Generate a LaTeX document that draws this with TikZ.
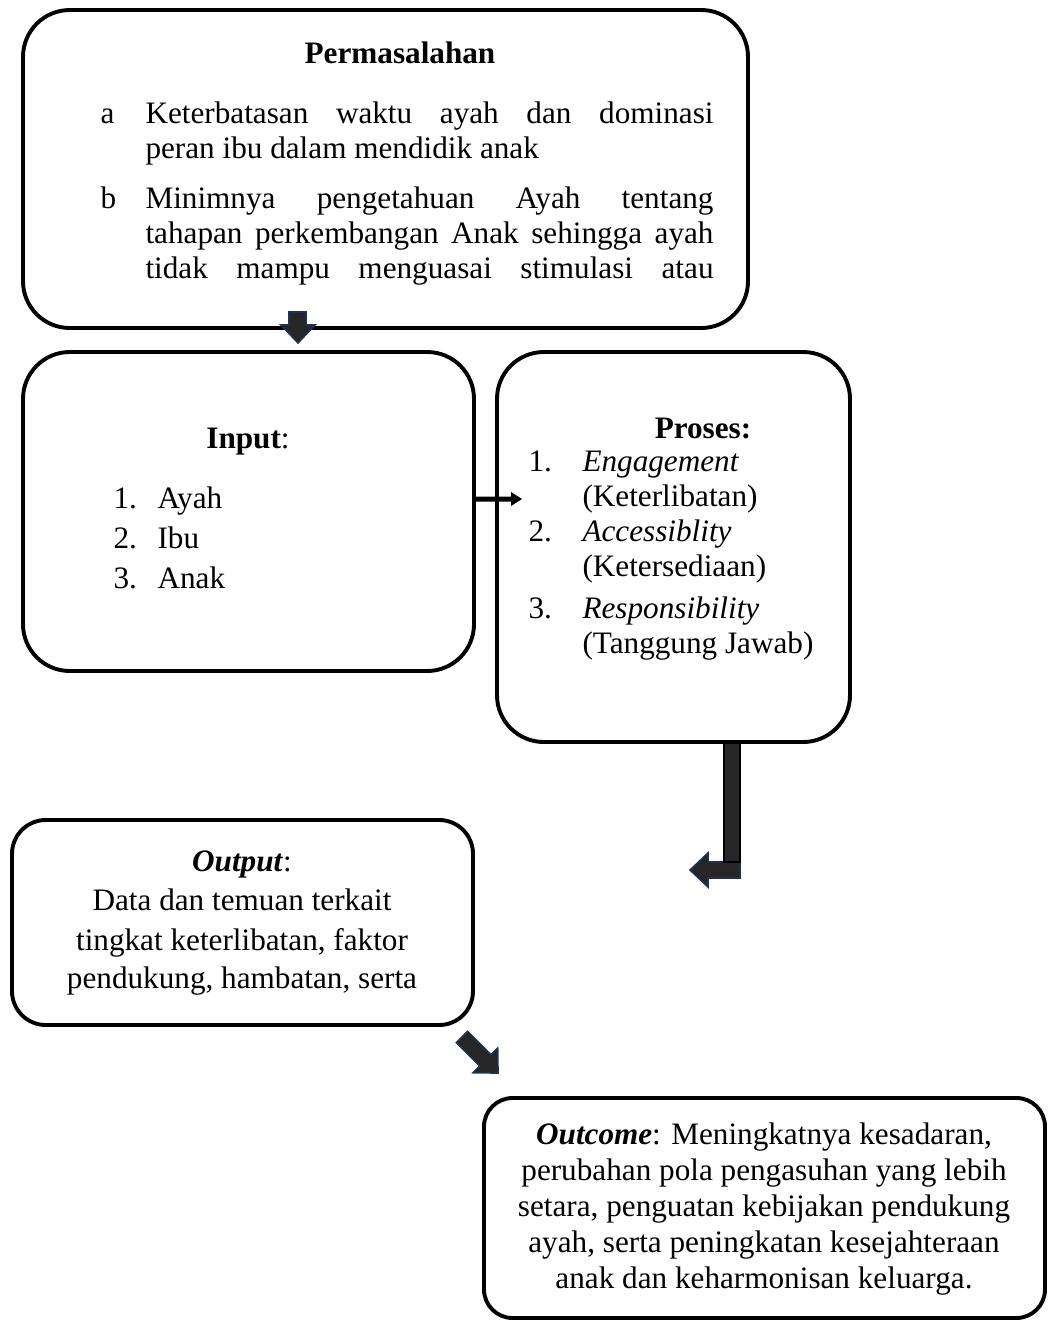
\documentclass[tikz,border=0pt]{standalone}
\usepackage{fontspec}
\setmainfont{Liberation Serif}
\usetikzlibrary{calc}
\definecolor{arrowfill}{HTML}{262626}
\definecolor{arrowedge}{HTML}{1F3256}
\newdimen\pxu \pxu=0.3846pt
\tikzset{line width=1.5pt,
  every node/.style={font=\fontsize{12}{14}\selectfont,inner sep=0pt},
  box/.style={draw=black,line width=1.5pt,rounded corners=18pt},
  blockarrow/.style={fill=arrowfill,draw=arrowedge,line width=.6pt},
  lt/.style={anchor=base west},
  ct/.style={anchor=base}}
\begin{document}
\begin{tikzpicture}[x=0.3846pt,y=-0.3846pt]
\useasboundingbox(0,0)rectangle(1055,1321);
% boxes
\draw[box](23,10)rectangle(748,328);
\draw[box](23,352)rectangle(474,671);
\draw[box](497,352)rectangle(850,742);
\draw[box,rounded corners=13pt](12,820)rectangle(473,1025);
\draw[box,rounded corners=11pt](484,1098)rectangle(1045,1318);
% Permasalahan
\node[ct,font=\fontsize{12}{14}\selectfont\bfseries](ttl)at(400,63){Permasalahan};
\node[lt](la)at(100,123){a};
\node[lt](a1)at(145,123){\makebox[568\pxu][s]{Keterbatasan waktu ayah dan dominasi}};
\node[lt](a2)at(145,158){peran ibu dalam mendidik anak};
\node[lt](lb)at(100,208){b};
\node[lt](b1)at(145,208){\makebox[568\pxu][s]{Minimnya pengetahuan Ayah tentang}};
\node[lt](b2)at(145,243){\makebox[568\pxu][s]{tahapan perkembangan Anak sehingga ayah}};
\node[lt](b3)at(145,278){\makebox[568\pxu][s]{tidak mampu menguasai stimulasi atau}};
% Input
\node[ct](inp)at(248,448){\textbf{Input}:};
\foreach \n/\t/\y in {1/Ayah/508,2/Ibu/548,3/Anak/588}{
  \node[lt](inum\n)at(113,\y){\n.};\node[lt](itm\n)at(157,\y){\t};}
% Proses
\node[ct](pro)at(703,438){\textbf{Proses:}};
\node[lt](pn1)at(528,471){1.};\node[lt](pe1)at(582,471){\textit{Engagement}};
\node[lt](pk1)at(582,506){(Keterlibatan)};
\node[lt](pn2)at(528,541){2.};\node[lt](pe2)at(582,541){\textit{Accessiblity}};
\node[lt](pk2)at(582,576){(Ketersediaan)};
\node[lt](pn3)at(528,618){3.};\node[lt](pe3)at(582,618){\textit{Responsibility}};
\node[lt](pk3)at(582,653){(Tanggung Jawab)};
% Output
\node[ct](out0)at(242,871){\textbf{\textit{Output}}:};
\node[ct](out1)at(242,910){Data dan temuan terkait};
\node[ct](out2)at(242,950){tingkat keterlibatan, faktor};
\node[ct](out3)at(242,988){pendukung, hambatan, serta};
% Outcome
\node[ct](oc1)at(764,1144){\textbf{\textit{Outcome}}: Meningkatnya kesadaran,};
\node[ct](oc2)at(764,1180){perubahan pola pengasuhan yang lebih};
\node[ct](oc3)at(764,1216){setara, penguatan kebijakan pendukung};
\node[ct](oc4)at(764,1252){ayah, serta peningkatan kesejahteraan};
\node[ct](oc5)at(764,1288){anak dan keharmonisan keluarga.};
% arrows
\draw[blockarrow](289,312)--(306,312)--(306,325)--(315,325)--(298,343)--(281,325)--(289,325)--cycle;
\fill[black](476,496.5)--(511,496.5)--(511,492)--(522,499)--(511,506)--(511,501.5)--(476,501.5)--cycle;
\draw[blockarrow](740,862)--(740,878)--(708,878)--(708,887)--(690,870)--(708,853)--(708,862)--cycle;
\draw[blockarrow,draw=black](724,743)rectangle(740,862);
\begin{scope}[shift={(462,1037)},rotate=-45]
\draw[blockarrow](0,-8)--(33,-8)--(33,-17.5)--(51,0)--(33,17.5)--(33,8)--(0,8)--cycle;
\end{scope}
\end{tikzpicture}
\end{document}
